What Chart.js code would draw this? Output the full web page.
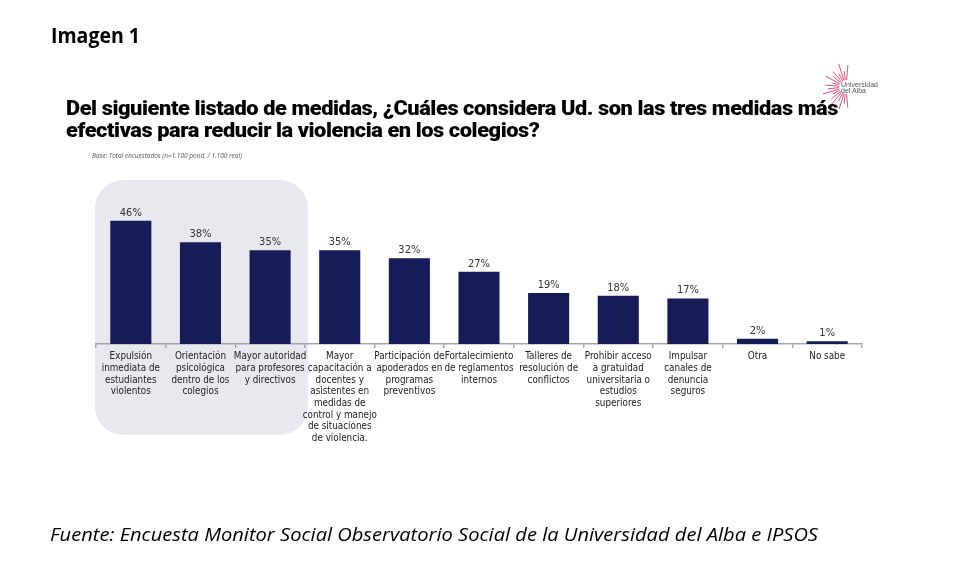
<!DOCTYPE html>
<html>
<head>
<meta charset="utf-8">
<script src="https://cdn.jsdelivr.net/npm/chart.js@4.4.1/dist/chart.umd.min.js"></script>
<style>
  html, body { margin:0; padding:0; background:#fff; width:955px; height:571px; overflow:hidden; }
  #wrap { position:absolute; left:0; top:0; width:955px; height:571px; }
  .t { position:absolute; white-space:nowrap; transform-origin:0 0; line-height:1; }
  #img1 { left:51px; top:22.8px; font-family:'Open Sans',sans-serif; font-weight:700; font-size:22px; color:#000; }
  #title { left:66px; top:96.5px; font-family:Roboto,'Liberation Sans',sans-serif; font-weight:900; font-size:20.5px; line-height:22px; color:#000; letter-spacing:-0.4px; }
  #title span { display:block; }
  #base { left:92px; top:152px; font-family:'Open Sans',sans-serif; font-style:italic; font-size:7px; color:#555; }
  #foot { left:50px; top:525.2px; font-family:'Open Sans',sans-serif; font-style:italic; font-size:18.6px; color:#000; }
  #logoTxt { left:841px; top:81.5px; font-family:'Liberation Sans',Arial,sans-serif; font-size:7.5px; line-height:6px; color:#555; }
  #logoTxt span { display:block; }
  #logo { position:absolute; left:0; top:0; }
</style>
</head>
<body>
<div id="wrap"><canvas id="c" width="955" height="571"></canvas></div>
<svg id="logo" width="955" height="571"></svg>
<div class="t" id="img1" data-w="89">Imagen 1</div>
<div class="t" id="title" data-w="772"><span id="tl1">Del siguiente listado de medidas, ¿Cuáles considera Ud. son las tres medidas más</span><span>efectivas para reducir la violencia en los colegios?</span></div>
<div class="t" id="base" data-w="150">Base: Total encuestados (n=1.100 pond. / 1.100 real)</div>
<div class="t" id="foot" data-w="768">Fuente: Encuesta Monitor Social Observatorio Social de la Universidad del Alba e IPSOS</div>
<div class="t" id="logoTxt" data-w="37"><span id="lg1">Universidad</span><span>del Alba</span></div>
<script>
// ---------- DATA ----------
const categories = [
  ["Expulsión","inmediata de","estudiantes","violentos"],
  ["Orientación","psicológica","dentro de los","colegios"],
  ["Mayor autoridad","para profesores","y directivos"],
  ["Mayor","capacitación a","docentes y","asistentes en","medidas de","control y manejo","de situaciones","de violencia."],
  ["Participación de","apoderados en","programas","preventivos"],
  ["Fortalecimiento","de reglamentos","internos"],
  ["Talleres de","resolución de","conflictos"],
  ["Prohibir acceso","a gratuidad","universitaria o","estudios","superiores"],
  ["Impulsar","canales de","denuncia","seguros"],
  ["Otra"],
  ["No sabe"]
];
const values = [46, 38, 35, 35, 32, 27, 19, 18, 17, 2, 1];
const highlighted = [0, 1, 2];

// ---------- text fitting ----------
function fit(el, ref) {
  const target = parseFloat(el.dataset.w);
  const w = (ref || el).getBoundingClientRect().width;
  el.style.transform = 'scaleX(' + (target / w) + ')';
}
fit(document.getElementById('img1'));
fit(document.getElementById('title'), document.getElementById('tl1'));
fit(document.getElementById('base'));
fit(document.getElementById('foot'));
fit(document.getElementById('logoTxt'), document.getElementById('lg1'));
</script>
<script>
// logo starburst (decorative)
(function(){
  const svg = document.getElementById('logo');
  const cx = 846, cy = 87;
  const lens = [22,16,24,15,20,17,23,14,21,18,24,15,19,22,16,23,17,21];
  const n = lens.length;
  let s = '';
  for (let i = 0; i < n; i++) {
    const a = (-95 + 190 * i / (n - 1)) * Math.PI / 180;
    const r0 = 7, r1 = lens[i];
    const x0 = cx - Math.cos(a) * r0, y0 = cy + Math.sin(a) * r0;
    const x1 = cx - Math.cos(a) * r1, y1 = cy + Math.sin(a) * r1;
    s += '<line x1="'+x0.toFixed(1)+'" y1="'+y0.toFixed(1)+'" x2="'+x1.toFixed(1)+'" y2="'+y1.toFixed(1)+'" stroke="#e8396f" stroke-width="0.9"/>';
  }
  svg.innerHTML = s;
})();
</script>
<script>
const LABEL_FONT = "'Liberation Sans Narrow','DejaVu Sans Condensed','Roboto Condensed','Liberation Sans',sans-serif";

const highlightPlugin = {
  id: 'highlight',
  beforeDraw(chart) {
    const x = chart.scales.x, area = chart.chartArea, ctx = chart.ctx;
    const step = x.getPixelForValue(1) - x.getPixelForValue(0);
    const first = highlighted[0], last = highlighted[highlighted.length - 1];
    const left = x.getPixelForValue(first) - step / 2 - 1;
    const right = x.getPixelForValue(last) + step / 2 + 3;
    const top = area.top - 30;
    const bottom = area.bottom + 91;
    ctx.save();
    ctx.fillStyle = '#e7e9ee';
    ctx.beginPath();
    ctx.roundRect(left, top, right - left, bottom - top, 28);
    ctx.fill();
    ctx.restore();
  }
};

const valueLabelPlugin = {
  id: 'valueLabels',
  afterDatasetsDraw(chart) {
    const ctx = chart.ctx;
    const meta = chart.getDatasetMeta(0);
    ctx.save();
    ctx.font = '11px ' + LABEL_FONT;
    ctx.fillStyle = '#333333';
    ctx.textAlign = 'center';
    ctx.textBaseline = 'alphabetic';
    meta.data.forEach((bar, i) => {
      ctx.fillText(values[i] + '%', bar.x, bar.y - 5);
    });
    ctx.restore();
  }
};

new Chart(document.getElementById('c'), {
  type: 'bar',
  data: {
    labels: categories,
    datasets: [{
      data: values,
      backgroundColor: '#151c58',
      borderWidth: 0,
      barPercentage: 0.59,
      categoryPercentage: 1.0
    }]
  },
  options: {
    responsive: false,
    animation: false,
    devicePixelRatio: 1,
    layout: { autoPadding: false, padding: { left: 96, right: 93, top: 210, bottom: 0 } },
    plugins: { legend: { display: false }, tooltip: { enabled: false }, title: { display: false } },
    scales: {
      y: { display: false, min: 0, max: 50 },
      x: {
        offset: true,
        afterFit(scale) { scale.height = 227; },
        border: { display: true, color: '#a6a6a6', width: 1.5 },
        grid: { display: true, offset: true, drawOnChartArea: false, drawTicks: true, tickLength: 4, color: '#a6a6a6', lineWidth: 1.5 },
        ticks: {
          autoSkip: false, maxRotation: 0, minRotation: 0, padding: 3,
          color: '#222222',
          font: { family: LABEL_FONT, size: 9.8, lineHeight: 1.19 }
        }
      }
    }
  },
  plugins: [highlightPlugin, valueLabelPlugin]
});
</script>
</body>
</html>
